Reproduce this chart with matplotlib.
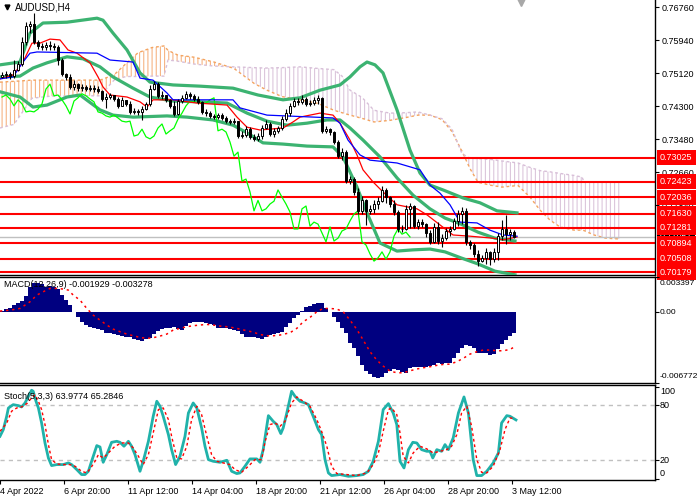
import numpy as np
import matplotlib
matplotlib.use('Agg')
import matplotlib.pyplot as plt
from matplotlib.transforms import blended_transform_factory as blend

plt.rcParams['font.family'] = ['Liberation Sans', 'DejaVu Sans']
plt.rcParams['hatch.linewidth'] = 0.8

# ---- price data (AUDUSD H4, 4 Apr 04:00 .. 3 May) ----
close = [0.7508, 0.7510, 0.7505, 0.7520, 0.7535, 0.7590, 0.7630, 0.7635, 0.7590, 0.7580,
         0.7577, 0.7582, 0.7580, 0.7577, 0.7545, 0.7510, 0.7503, 0.7478, 0.7485, 0.7475,
         0.7478, 0.7473, 0.7475, 0.7473, 0.7468, 0.7448, 0.7453, 0.7458, 0.7448, 0.7431,
         0.7446, 0.7436, 0.7416, 0.7418, 0.7416, 0.7423, 0.7436, 0.7473, 0.7485, 0.7456,
         0.7458, 0.7446, 0.7431, 0.7411, 0.7443, 0.7451, 0.7461, 0.7456, 0.7448, 0.7441,
         0.7416, 0.7413, 0.7406, 0.7403, 0.7408, 0.7401, 0.7393, 0.7391, 0.7393, 0.7356,
         0.7359, 0.7373, 0.7354, 0.7349, 0.7356, 0.7376, 0.7386, 0.7361, 0.7369, 0.7376,
         0.7398, 0.7413, 0.7431, 0.7443, 0.7441, 0.7448, 0.7436, 0.7438, 0.7446, 0.7451,
         0.7369, 0.7373, 0.7366, 0.7341, 0.7306, 0.7316, 0.7244, 0.7249, 0.7217, 0.7170,
         0.7196, 0.7170, 0.7175, 0.7187, 0.7194, 0.7222, 0.7204, 0.7187, 0.7167, 0.7125,
         0.7125, 0.7175, 0.7182, 0.7132, 0.7142, 0.7137, 0.7115, 0.7093, 0.7130, 0.7095,
         0.7102, 0.7120, 0.7125, 0.7145, 0.7162, 0.7170, 0.7093, 0.7085, 0.7063, 0.7045,
         0.7053, 0.7068, 0.7050, 0.7068, 0.7107, 0.7125, 0.7112, 0.7117, 0.7105]
high = [0.7515, 0.7518, 0.7515, 0.7545, 0.7543, 0.7602, 0.7639, 0.7642, 0.7662, 0.7595,
        0.7587, 0.7590, 0.7592, 0.7587, 0.7582, 0.7550, 0.7513, 0.7510, 0.7495, 0.7488,
        0.7485, 0.7483, 0.7483, 0.7483, 0.7480, 0.7470, 0.7463, 0.7463, 0.7458, 0.7453,
        0.7453, 0.7446, 0.7443, 0.7426, 0.7423, 0.7431, 0.7441, 0.7483, 0.7493, 0.7490,
        0.7468, 0.7458, 0.7448, 0.7443, 0.7448, 0.7458, 0.7468, 0.7465, 0.7461, 0.7456,
        0.7443, 0.7423, 0.7418, 0.7411, 0.7413, 0.7413, 0.7406, 0.7398, 0.7401, 0.7393,
        0.7369, 0.7381, 0.7378, 0.7361, 0.7364, 0.7383, 0.7396, 0.7391, 0.7376, 0.7381,
        0.7406, 0.7423, 0.7438, 0.7451, 0.7451, 0.7458, 0.7453, 0.7446, 0.7453, 0.7458,
        0.7453, 0.7381, 0.7376, 0.7369, 0.7346, 0.7326, 0.7321, 0.7257, 0.7254, 0.7227,
        0.7207, 0.7200, 0.7185, 0.7196, 0.7204, 0.7232, 0.7227, 0.7207, 0.7196, 0.7172,
        0.7135, 0.7185, 0.7190, 0.7185, 0.7150, 0.7150, 0.7140, 0.7122, 0.7140, 0.7142,
        0.7112, 0.7127, 0.7132, 0.7152, 0.7172, 0.7180, 0.7177, 0.7097, 0.7090, 0.7073,
        0.7060, 0.7078, 0.7070, 0.7078, 0.7115, 0.7147, 0.7160, 0.7125, 0.7122]
low = [0.7500, 0.7500, 0.7498, 0.7500, 0.7518, 0.7530, 0.7582, 0.7612, 0.7585, 0.7572,
       0.7570, 0.7570, 0.7570, 0.7570, 0.7533, 0.7505, 0.7495, 0.7473, 0.7470, 0.7468,
       0.7468, 0.7468, 0.7468, 0.7465, 0.7463, 0.7443, 0.7426, 0.7448, 0.7443, 0.7426,
       0.7431, 0.7431, 0.7411, 0.7411, 0.7408, 0.7396, 0.7421, 0.7431, 0.7470, 0.7451,
       0.7448, 0.7441, 0.7426, 0.7406, 0.7408, 0.7438, 0.7448, 0.7448, 0.7443, 0.7436,
       0.7411, 0.7406, 0.7401, 0.7398, 0.7398, 0.7396, 0.7388, 0.7386, 0.7386, 0.7351,
       0.7351, 0.7354, 0.7349, 0.7344, 0.7344, 0.7349, 0.7373, 0.7356, 0.7354, 0.7364,
       0.7371, 0.7393, 0.7406, 0.7428, 0.7433, 0.7436, 0.7431, 0.7431, 0.7433, 0.7436,
       0.7364, 0.7364, 0.7359, 0.7336, 0.7301, 0.7296, 0.7239, 0.7237, 0.7209, 0.7162,
       0.7162, 0.7135, 0.7162, 0.7165, 0.7175, 0.7192, 0.7190, 0.7180, 0.7160, 0.7117,
       0.7117, 0.7122, 0.7127, 0.7127, 0.7125, 0.7130, 0.7105, 0.7088, 0.7090, 0.7088,
       0.7080, 0.7097, 0.7107, 0.7122, 0.7132, 0.7137, 0.7085, 0.7075, 0.7055, 0.7033,
       0.7043, 0.7038, 0.7035, 0.7043, 0.7048, 0.7097, 0.7088, 0.7097, 0.7102]
open_ = [0.7503] + close[:-1]

# Bollinger bands (bar position, price)
bb_up_x = [-0.5, 4.5, 7, 10.25, 16.25, 23.75, 25.25, 27.75, 31.25, 34.5, 37, 42.75, 49.5,
           57.75, 64, 70.25, 74.5, 79.5, 84.5, 87, 89.5, 91.25, 93.25, 95.25, 98.75, 102,
           104.5, 107, 110.25, 115.25, 119.5, 123.75, 128.75]
bb_up = [0.7533, 0.7540, 0.7612, 0.7637, 0.7639, 0.7649, 0.7644, 0.7612, 0.7570, 0.7513,
         0.7490, 0.7483, 0.7480, 0.7475, 0.7458, 0.7446, 0.7451, 0.7470, 0.7483, 0.7503,
         0.7528, 0.7540, 0.7533, 0.7513, 0.7421, 0.7321, 0.7264, 0.7234, 0.7222, 0.7202,
         0.7190, 0.7170, 0.7165]
bb_mid_x = [-0.5, 4.5, 7.75, 11.25, 16.25, 20.25, 24.5, 27.75, 32.75, 37, 42.75, 49.5, 56.25,
            61.25, 66.25, 71.25, 76.25, 81.25, 84.5, 87, 90.25, 94.5, 98.75, 102.75, 107,
            110.75, 114.75, 119, 123.25, 128.25]
bb_mid = [0.7503, 0.7505, 0.7525, 0.7538, 0.7553, 0.7548, 0.7528, 0.7503, 0.7475, 0.7453,
          0.7443, 0.7441, 0.7438, 0.7413, 0.7393, 0.7383, 0.7388, 0.7396, 0.7396, 0.7376,
          0.7346, 0.7304, 0.7252, 0.7209, 0.7175, 0.7152, 0.7137, 0.7117, 0.7102, 0.7095]
bb_lo_x = [-0.5, 4.5, 7.75, 11.25, 16.25, 19.5, 24.5, 27.75, 32.75, 41.25, 46.25, 52.75,
           57.75, 61.25, 65.25, 70.25, 76.25, 82.75, 85.25, 88.75, 91.25, 94.5, 98.75,
           102.75, 107, 110.75, 114.75, 119, 123.25, 128.25]
bb_lo = [0.7466, 0.7453, 0.7428, 0.7433, 0.7453, 0.7458, 0.7421, 0.7408, 0.7403, 0.7406,
         0.7403, 0.7396, 0.7383, 0.7364, 0.7339, 0.7336, 0.7331, 0.7329, 0.7304, 0.7229,
         0.7165, 0.7090, 0.7070, 0.7073, 0.7075, 0.7068, 0.7053, 0.7038, 0.7020, 0.7011]

# Ichimoku
tenkan_x = [-0.5, 2.75, 5.25, 7.5, 9.5, 12, 14.5, 16.5, 18.75, 22, 24, 25.25, 27, 31.25, 34.5,
            36.25, 37.75, 42.75, 48.75, 56.25, 58.75, 61.25, 64.5, 70.25, 72.75, 74.5, 79.5,
            82.75, 84.5, 87, 88.75, 90.25, 92.75, 95.25, 98.75, 103.75, 106.25, 109.5,
            112.75, 117, 122.75, 125.25, 128.75]
tenkan = [0.7498, 0.7508, 0.7540, 0.7587, 0.7587, 0.7597, 0.7595, 0.7570, 0.7562, 0.7538,
          0.7503, 0.7478, 0.7458, 0.7453, 0.7441, 0.7428, 0.7446, 0.7446, 0.7438, 0.7433,
          0.7403, 0.7378, 0.7371, 0.7376, 0.7391, 0.7403, 0.7413, 0.7408, 0.7388, 0.7346,
          0.7309, 0.7272, 0.7242, 0.7217, 0.7185, 0.7175, 0.7160, 0.7135, 0.7110, 0.7107,
          0.7102, 0.7098, 0.7105]
kijun_x = [-0.5, 2.75, 5.25, 7, 8.75, 23.75, 27, 32.75, 34.5, 37.75, 41.25, 42.75, 57.75,
           59.5, 66.25, 82.75, 84.5, 86.5, 89.5, 92, 98.75, 104.5, 107, 109.5, 112, 114.5,
           118.75, 122, 125.25, 128.75]
kijun = [0.7498, 0.7503, 0.7540, 0.7562, 0.7565, 0.7562, 0.7545, 0.7540, 0.7500, 0.7495,
         0.7463, 0.7446, 0.7446, 0.7426, 0.7408, 0.7401, 0.7388, 0.7346, 0.7309, 0.7296,
         0.7289, 0.7272, 0.7234, 0.7214, 0.7185, 0.7142, 0.7140, 0.7122, 0.7110, 0.7107]
cloud_x = [-0.5, 3, 7.5, 12, 18, 24.5, 28, 31, 34, 37.5, 40.5, 41.5, 44, 48, 53, 58, 63, 66,
           70, 74.5, 79, 83, 85, 87, 90, 93, 97, 101, 104, 107, 110, 112.5, 115, 117, 119,
           122, 125, 129, 132, 134.5, 137, 139.5, 143, 145, 145.5, 148, 151, 154.5]
span_a = [0.7490, 0.7492, 0.7495, 0.7495, 0.7495, 0.7495, 0.7508, 0.7536, 0.7563, 0.7576,
          0.7580, 0.7569, 0.7557, 0.7552, 0.7540, 0.7524, 0.7487, 0.7471, 0.7454, 0.7446,
          0.7437, 0.7420, 0.7414, 0.7408, 0.7400, 0.7391, 0.7395, 0.7402, 0.7408, 0.7408,
          0.7397, 0.7367, 0.7318, 0.7275, 0.7241, 0.7234, 0.7229, 0.7233, 0.7204, 0.7172,
          0.7147, 0.7130, 0.7122, 0.7122, 0.7121, 0.7110, 0.7102, 0.7100]
span_b = [0.7376, 0.7385, 0.7450, 0.7455, 0.7456, 0.7456, 0.7495, 0.7504, 0.7504, 0.7505,
          0.7505, 0.7545, 0.7542, 0.7535, 0.7530, 0.7528, 0.7526, 0.7525, 0.7526, 0.7528,
          0.7524, 0.7521, 0.7505, 0.7470, 0.7452, 0.7420, 0.7413, 0.7414, 0.7416, 0.7408,
          0.7399, 0.7373, 0.7312, 0.7301, 0.7300, 0.7298, 0.7294, 0.7289, 0.7278, 0.7270,
          0.7267, 0.7263, 0.7258, 0.7254, 0.7242, 0.7242, 0.7242, 0.7242]
chikou_shift = 26

levels = [0.73025, 0.72423, 0.72036, 0.71630, 0.71281, 0.70894, 0.70508, 0.70179]
last_price = 0.71051
price_ticks = [0.76760, 0.75940, 0.75120, 0.74300, 0.73480, 0.72660, 0.71840]

# MACD(12,26,9)
macd = [0.00016, 0.00032, 0.00045, 0.0007, 0.00093, 0.00112, 0.0016, 0.00246, 0.00278, 0.00285,
        0.00272, 0.00246, 0.00253, 0.00246, 0.00221, 0.00166, 0.00118, 0.0007, 0.00006,
        -0.00048, -0.0009, -0.00122, -0.00137, -0.00153, -0.00163, -0.00169, -0.00201, -0.00201,
        -0.00208, -0.00217, -0.00227, -0.0024, -0.0024, -0.00259, -0.00265, -0.00275, -0.00259,
        -0.00249, -0.00208, -0.00176, -0.0016, -0.00153, -0.00153, -0.00144, -0.0016, -0.00169,
        -0.00128, -0.00106, -0.0009, -0.0009, -0.0009, -0.00106, -0.00115, -0.00122, -0.00147,
        -0.00153, -0.00153, -0.00163, -0.00169, -0.00176, -0.00208, -0.00233, -0.00233, -0.00233,
        -0.00249,
        -0.00259, -0.0024, -0.00217, -0.00208, -0.00195, -0.00185, -0.00144, -0.00106, -0.00058,
        -0.00026, 0.00016, 0.00054, 0.00064, 0.00077, 0.00093, 0.00093, 0.00038, 0.00006,
        -0.00042, -0.0009, -0.00153, -0.00201, -0.00291, -0.00345, -0.00416, -0.00505, -0.0056,
        -0.00595, -0.00623, -0.00633, -0.00623, -0.00579, -0.0056, -0.00543, -0.00553, -0.00569,
        -0.00579, -0.00537, -0.00528, -0.00521, -0.00521, -0.00521, -0.00515, -0.00505, -0.00483,
        -0.00496, -0.00489, -0.00483, -0.00441, -0.00393, -0.00345, -0.00313, -0.00323, -0.00345,
        -0.00393, -0.00393, -0.00393, -0.00409, -0.004, -0.00355, -0.00304, -0.00265, -0.00227,
        -0.00193]
macd_sig_x = [-0.5, 2, 4.5, 7, 8.7, 10.3, 12, 13.7, 15.3, 16.6, 17.8, 19.5, 21.2, 22.8, 24.5,
              26.2, 27.8, 29.5, 31.2, 32.8, 34.5, 36.2, 37.8, 39.5, 41.2, 42.8, 44.5, 46.2,
              47.8, 49.5, 51.2, 52.8, 54.5, 56.2, 57.8, 59.5, 61.2, 62.8, 64.5, 67, 69.5, 72,
              73.7, 75.3, 77, 78.7, 80.3, 82, 83.7, 85.3, 87, 88.7, 90.3, 92, 93.7, 95.3, 97,
              98.7, 100.3, 102, 103.7, 105.3, 107, 108.7, 110.3, 112, 113.7, 115.3, 117, 118.7,
              120.3, 122, 123.7, 125.3, 127, 128.2]
macd_sig = [0.00013, 0.00022, 0.00038, 0.00102, 0.00166, 0.00198, 0.0023, 0.0023, 0.00224,
            0.00214, 0.00166, 0.00118, 0.00038, -0.00026, -0.00074, -0.00121, -0.0016, -0.00185,
            -0.00208, -0.00224, -0.0024, -0.00249, -0.00243, -0.00227, -0.00208, -0.00169,
            -0.00153, -0.00137, -0.00128, -0.00121, -0.00115, -0.00121, -0.00131, -0.00137,
            -0.00147, -0.0016, -0.00176, -0.00189, -0.00212, -0.00227, -0.00217, -0.00195,
            -0.00153, -0.0009, -0.00048, 0.00006, 0.00038, 0.00038, 0.00032, 0.00006, -0.00074,
            -0.00163, -0.00265, -0.00377, -0.00457, -0.00515, -0.00563, -0.00579, -0.00579,
            -0.0056, -0.00543, -0.00531, -0.00521, -0.00508, -0.00499, -0.00496, -0.00473,
            -0.00441, -0.004, -0.00377, -0.00361, -0.00361, -0.00368, -0.00368, -0.00355,
            -0.00329]
macd_range = (-0.006772, 0.003397)

# Stochastic(5,3,3)
stoch_k_x = [-0.5, 0.33, 1.17, 1.6, 2.8, 4.1, 4.9, 5.75, 6.6, 7.4, 7.8, 8.5, 9.1, 9.9, 10.75,
             11.6, 12.4, 13.7, 15.3, 16.6, 17.4, 18.7, 19.9, 20.75, 21.6, 22.4, 23.7, 24.5,
             25.3, 26.2, 27.4, 28.7, 29.5, 30.5, 31.6, 32.4, 33.25, 34.5, 35.3, 36.6, 37.8,
             38.7, 39.5, 40.3, 41.6, 42.4, 43.4, 44.5, 45.75, 46.6, 47.8, 48.7, 49.9, 50.75,
             51.6, 52.8, 54.5, 56.2, 57.4, 58.7, 59.5, 60.75, 62, 63.7, 64.5, 65.3, 66.6, 67.8,
             68.7, 69.7, 70.3, 71.2, 72.4, 73.25, 74.5, 75.75, 76.6, 77.8, 79.1, 79.9, 80.75,
             81.6, 82.4, 84.5, 86.6, 88.7, 90.3, 91.6, 92.8, 94.1, 95.3, 96.6, 97.8, 98.7, 99.5,
             100.5, 101.6, 102.7, 103.7, 104.9, 106.2, 107, 107.7, 108.7, 109.9, 110.75, 111.6,
             112.8, 114.1, 115.5, 116.6, 117.8, 118.7, 119.9, 121.2, 122.8, 124.1, 124.9, 126.2,
             127, 128.5]
stoch_k = [46.2, 53.5, 68, 77, 80.7, 79.6, 78.2, 82.5, 89.8, 96.4, 95.3, 84.4, 77.1, 60.7, 38.9,
           22.5, 14.2, 15.3, 15.3, 17.1, 15.3, 9.8, 4.4, 4.4, 8, 18.9, 36, 34.5, 17.8, 26.2,
           39.6, 40.7, 39.6, 35.3, 40.7, 35.3, 26.2, 8, 18.9, 40.7, 68, 84.4, 78.9, 68, 48,
           31.6, 15.3, 24.4, 46.2, 71.6, 82.5, 77.1, 55.3, 35.3, 20.7, 18.9, 17.8, 20, 8, 5.5,
           6.2, 13.5, 21.5, 21.5, 17.8, 31.6, 68.7, 62.5, 58.9, 49.1, 55.3, 71.6, 95.3, 89.8,
           84.4, 82.5, 80.7, 68, 53.5, 48, 20.7, 6.2, 3.3, 4.4, 2.5, 3.3, 4.4, 8, 18.9, 40.7,
           75.3, 81.8, 71.6, 58.9, 18.9, 11.6, 31.6, 39.6, 38.9, 31.6, 29.8, 29.8, 22.5, 31.6,
           29.8, 37.1, 31.6, 44.4, 71.6, 89.1, 71.6, 20.7, 3.3, 3.3, 8, 17.1, 28, 60.7, 68.7,
           68, 64.0]
stoch_d_x = [-0.5, 1.2, 2.4, 3.7, 4.9, 6.2, 7.4, 8.25, 9.1, 9.9, 10.75, 11.6, 12.4, 13.7, 15.3,
             17, 18.25, 19.9, 21.2, 22.2, 23.25, 24.1, 25.3, 26.6, 28.25, 29.9, 31.6, 32.8,
             34.1, 35.3, 36.6, 37.8, 39.1, 40.3, 41.6, 42.4, 43.7, 44.9, 46.2, 47.4, 48.7, 49.9,
             51.2, 52.4, 53.7, 55.3, 57, 58.25, 59.9, 61.6, 63.25, 64.9, 65.75, 67, 68.25, 69.5,
             70.75, 72.4, 73.7, 75.3, 77, 78.7, 79.9, 81.2, 82.4, 83.7, 86.2, 88.7, 91.2, 92.8,
             94.1, 95.3, 96.6, 97.4, 98.7, 99.5, 100.3, 101.6, 102.8, 104.5, 106.2, 107.8,
             109.5, 111.2, 112.4, 113.7, 114.9, 116.2, 117.4, 118.7, 119.9, 121.2, 122.8, 124.5,
             125.75, 127, 128.25]
stoch_d = [51.6, 60.7, 73.5, 77.1, 78.2, 81.8, 88, 91.6, 84.4, 75.3, 58.9, 37.1, 20.7, 16, 15.3,
           15.3, 13.5, 8, 6.2, 11.6, 18.9, 26.2, 22.5, 28, 35.3, 38.9, 38.9, 33.5, 24.4, 15.3,
           26.2, 49.8, 75.3, 77.1, 64.4, 46.2, 22.5, 21.5, 35.3, 64.4, 78.9, 69.8, 46.2, 26.2,
           18.9, 17.1, 15.3, 9.8, 6.9, 13.5, 20.7, 20.7, 40, 58.9, 60.7, 57.1, 62.5, 82.5, 89.1,
           84.4, 78.9, 64.4, 51.6, 35.3, 13.5, 5.5, 4.4, 3.3, 6.2, 15.3, 28, 51.6, 75.3, 77.1,
           69.8, 49.8, 24.4, 17.1, 28, 35.3, 32.4, 28, 29.8, 31.6, 35.3, 48, 71.6, 78.9, 57.1,
           20.7, 6.9, 6.2, 13.5, 31.6, 53.5, 66.2, 65.3]

date_labels = ['4 Apr 2022', '6 Apr 20:00', '11 Apr 12:00', '14 Apr 04:00', '18 Apr 20:00',
               '21 Apr 12:00', '26 Apr 04:00', '28 Apr 20:00', '3 May 12:00']
date_bars = [0, 16, 32, 48, 64, 80, 96, 112, 128]

# ---- figure ----
W, H = 700, 500
fig = plt.figure(figsize=(7, 5), dpi=100)
pw = 655 / W
ax = fig.add_axes([0, 1 - 275 / H, pw, 275 / H])
axm = fig.add_axes([0, 1 - 383 / H, pw, 106 / H])
axs = fig.add_axes([0, 1 - 479.7 / H, pw, 94.4 / H])
xlim = (-0.5, 163.25)
fs = 6.5

for a in (ax, axm, axs):
    a.set_xlim(*xlim)
    a.spines['left'].set_visible(False)
    a.set_facecolor('white')
    for s in ('right', 'bottom', 'top'):
        a.spines[s].set_linewidth(1.0)
    a.yaxis.tick_right()
    a.tick_params(axis='y', length=3, width=0.8, pad=2, labelsize=fs)
ax.spines['top'].set_visible(False)
ax.set_xticks([])
axm.set_xticks([])


def edge_label(a, val, text, dy, size=fs):
    # right-scale label, nudged inside the panel like the terminal does
    a.annotate(text, xy=(1, val), xycoords=blend(a.transAxes, a.transData),
               xytext=(3.6, dy), textcoords='offset points', ha='left', va='center',
               fontsize=size, annotation_clip=False)


# cloud
ca, cb = np.array(span_a), np.array(span_b)
ax.fill_between(cloud_x, ca, cb, where=ca >= cb, interpolate=True, facecolor='none',
                edgecolor='#F6B483', hatch='||||', linewidth=0, zorder=1)
ax.fill_between(cloud_x, ca, cb, where=ca < cb, interpolate=True, facecolor='none',
                edgecolor='#DCC6DC', hatch='||||', linewidth=0, zorder=1)
ax.plot(cloud_x, ca, color='#F4A460', lw=1, ls=(0, (2, 2)), zorder=1.5)
ax.plot(cloud_x, cb, color='#D8BFD8', lw=1, ls=(0, (2, 2)), zorder=1.5)

# support / resistance
for lv in levels:
    ax.axhline(lv, color='#FF0000', lw=1.5, zorder=2)
ax.axhline(last_price, color='#C0C0C0', lw=1, zorder=1.8)

# bands and ichimoku lines
for xs, ys in ((bb_up_x, bb_up), (bb_mid_x, bb_mid), (bb_lo_x, bb_lo)):
    ax.plot(xs, ys, color='#3CB371', lw=2.3, zorder=3)
ax.plot(tenkan_x, tenkan, color='#FF0000', lw=0.9, zorder=3.2)
ax.plot(kijun_x, kijun, color='#0000FF', lw=0.9, zorder=3.2)
bars = np.arange(len(close))
ax.plot(bars[chikou_shift:] - chikou_shift, close[chikou_shift:], color='#00FF00', lw=0.9,
        zorder=3.1)

# candles
o, c = np.array(open_), np.array(close)
hi = np.maximum(np.array(high), np.maximum(o, c))
lo = np.minimum(np.array(low), np.minimum(o, c))
ax.vlines(bars, lo, hi, color='black', lw=0.8, zorder=4)
up = c >= o
ax.bar(bars[up], (c - o)[up], bottom=o[up], width=0.72, facecolor='white',
       edgecolor='black', lw=0.7, zorder=5)
ax.bar(bars[~up], (o - c)[~up], bottom=c[~up], width=0.72, facecolor='black',
       edgecolor='black', lw=0.7, zorder=5)

ax.set_ylim(0.70105, 0.76942)
ax.set_yticks(price_ticks)
ax.set_yticklabels([f'{v:.5f}' for v in price_ticks])

tr = blend(ax.transAxes, ax.transData)
ax.text(1 + 5 / 655, last_price, f'{last_price:.5f}', transform=tr, ha='left', va='center',
        fontsize=fs, color='white', zorder=9, clip_on=False,
        bbox=dict(boxstyle='square,pad=0.3', fc='black', ec='none'))
for lv in levels:
    ax.text(1 + 5 / 655, lv, f'{lv:.5f}', transform=tr, ha='left', va='center', fontsize=fs,
            color='white', zorder=10, clip_on=False,
            bbox=dict(boxstyle='square,pad=0.35', fc='#FF0000', ec='none'))

ax.plot([0.011], [0.974], marker='v', color='black', ms=3.5, transform=ax.transAxes,
        clip_on=False)
ax.text(15 / 655, 0.974, 'AUDUSD,H4', transform=ax.transAxes, fontsize=7, va='center',
        ha='left', zorder=11)
ax.plot([129.7], [0.993], marker='v', color='#A8A8A8', ms=6,
        transform=blend(ax.transData, ax.transAxes), clip_on=False, zorder=11)

# MACD panel
axm.bar(bars, macd, width=0.76, color='#000080', linewidth=0, zorder=2)
axm.plot(macd_sig_x, macd_sig, color='#FF0000', lw=1.1, ls=(0, (1.5, 2.5)), zorder=3)
axm.set_ylim(*macd_range)
axm.set_yticks([macd_range[1], 0.0, macd_range[0]])
axm.set_yticklabels([])
edge_label(axm, macd_range[1], f'{macd_range[1]:.6f}', -5, 6.1)
edge_label(axm, 0.0, '0.00', 0, 6.1)
edge_label(axm, macd_range[0], f'{macd_range[0]:.6f}', 5, 6.1)
axm.text(4 / 655, 0.93, 'MACD(12,26,9) -0.001929 -0.003278', transform=axm.transAxes,
         fontsize=fs, va='center', ha='left', zorder=5)

# Stochastic panel
axs.axhline(80, color='#C0C0C0', lw=1, ls=(0, (3, 3)), zorder=1)
axs.axhline(20, color='#C0C0C0', lw=1, ls=(0, (3, 3)), zorder=1)
axs.plot(stoch_k_x, stoch_k, color='#20B2AA', lw=2, zorder=3)
axs.plot(stoch_d_x, stoch_d, color='#FF0000', lw=1, ls=(0, (2, 2)), zorder=4)
axs.set_ylim(-1.2, 101.8)
axs.set_yticks([100, 80, 20, 0])
axs.set_yticklabels([])
edge_label(axs, 100, '100', -3.5)
edge_label(axs, 80, '80', 0)
edge_label(axs, 20, '20', 0)
edge_label(axs, 0, '0', 3.5)
axs.text(4 / 655, 0.88, 'Stoch(5,3,3) 63.9774 65.2846', transform=axs.transAxes,
         fontsize=fs, va='center', ha='left', zorder=5)
axs.set_xticks(np.array(date_bars) - 0.45)
axs.set_xticklabels(date_labels, ha='left')
axs.tick_params(axis='x', length=3, width=0.8, pad=2, labelsize=fs)

fig.savefig('out.png', dpi=100, facecolor='white')
